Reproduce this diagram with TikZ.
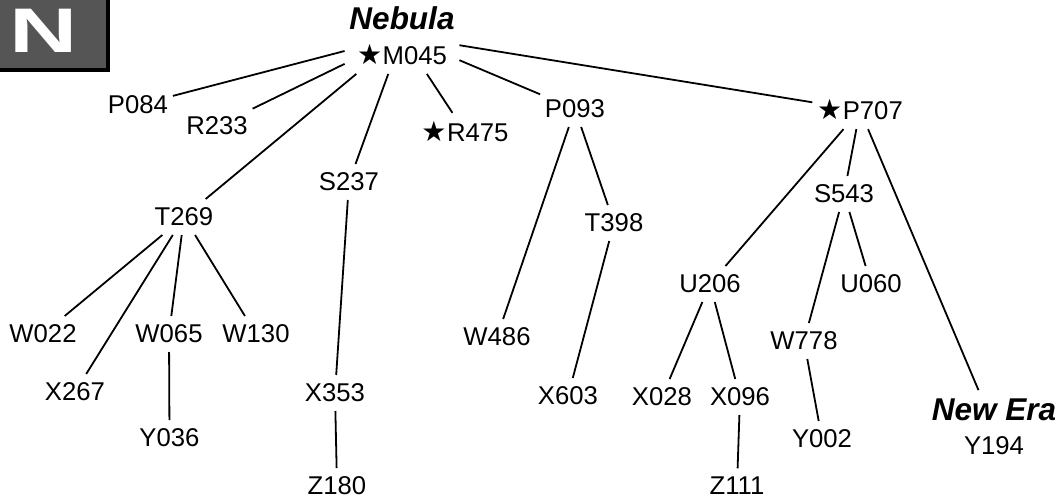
\documentclass[tikz,border=0pt]{standalone}
\usepackage{fontspec}
\setmainfont{Liberation Sans}
\newfontfamily\symfont{DejaVu Sans}
\definecolor{badgegray}{RGB}{85,85,85}
\newcommand{\starmark}{{\symfont\fontsize{28}{28}\selectfont ★}\kern0.5pt}
\newcommand{\tribe}[1]{{\fontsize{31.5}{35}\selectfont\bfseries\itshape #1}}

\begin{document}
\begin{tikzpicture}[x=1pt, y=-1pt, line width=1.8pt,
  font=\fontsize{25.7}{35}\selectfont,
  member/.style={inner xsep=4pt, inner ysep=8pt},
  clan/.style={member, align=center}]
  \useasboundingbox (0,0) rectangle (1059,500);
  % badge in the corner
  \fill[badgegray] (-10,-10) rectangle (108,70);
  \draw[line width=4pt] (-10,-10) rectangle (108,70);
  \node[text=white, inner sep=0pt, font=\fontsize{63}{63}\selectfont\bfseries] (badge) at (44,30.5) {\scalebox{1.5}[1]{N}};
  % family tree
  \node[clan] (m045) at (402,36) {\tribe{Nebula}\\\starmark M045};
  \node[member] (p084) at (138,105) {P084};
  \node[member] (r233) at (217,126) {R233};
  \node[member] (r475) at (465,132) {\starmark R475};
  \node[member] (p093) at (575,109) {P093};
  \node[member] (p707) at (860,110) {\starmark P707};
  \node[member] (s237) at (349,182) {S237};
  \node[member] (t269) at (184,217) {T269};
  \node[member] (t398) at (614,223) {T398};
  \node[member] (s543) at (844,194) {S543};
  \node[member] (u206) at (710,284) {U206};
  \node[member] (u060) at (871,284) {U060};
  \node[member] (w022) at (43,334) {W022};
  \node[member] (w065) at (169,334) {W065};
  \node[member] (w130) at (256,334) {W130};
  \node[member] (w486) at (497,337) {W486};
  \node[member] (w778) at (804,341) {W778};
  \node[member] (x267) at (75,392) {X267};
  \node[member] (x353) at (335,393) {X353};
  \node[member] (x603) at (568,396) {X603};
  \node[member] (x028) at (662,397) {X028};
  \node[member] (x096) at (740,397) {X096};
  \node[clan] (y194) at (994,427) {\tribe{New Era}\\[-1pt]Y194};
  \node[member] (y036) at (169.5,438) {Y036};
  \node[member] (y002) at (822,439) {Y002};
  \node[member] (z180) at (337,486) {Z180};
  \node[member] (z111) at (737,486) {Z111};
  \draw (m045) -- (p084);
  \draw (m045) -- (r233);
  \draw (m045) -- (t269);
  \draw (m045) -- (s237);
  \draw (m045) -- (r475);
  \draw (m045) -- (p093);
  \draw (m045) -- (p707);
  \draw (t269) -- (w022);
  \draw (t269) -- (x267);
  \draw (t269) -- (w065);
  \draw (t269) -- (w130);
  \draw (w065) -- (y036);
  \draw (s237) -- (x353);
  \draw (x353) -- (z180);
  \draw (p093) -- (w486);
  \draw (p093) -- (t398);
  \draw (t398) -- (x603);
  \draw (p707) -- (u206);
  \draw (p707) -- (s543);
  \draw (p707) -- (y194);
  \draw (s543) -- (w778);
  \draw (s543) -- (u060);
  \draw (w778) -- (y002);
  \draw (u206) -- (x028);
  \draw (u206) -- (x096);
  \draw (x096) -- (z111);
\end{tikzpicture}
\end{document}
